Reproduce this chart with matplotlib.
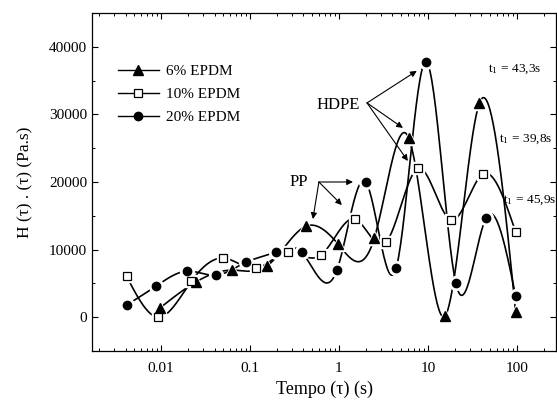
from __future__ import annotations

import numpy as np
import matplotlib

matplotlib.use("Agg")
import matplotlib.pyplot as plt
from matplotlib.lines import Line2D

plt.rcParams["font.family"] = ["Liberation Serif", "DejaVu Serif"]
plt.rcParams["mathtext.fontset"] = "stix"

# values
tau_6 = [0.0097, 0.025, 0.063, 0.155, 0.43, 0.98, 2.5, 6.1, 15.5, 38, 97]
h_6 = [1350, 5250, 6960, 7560, 13480, 10800, 11700, 26500, 150, 31700, 740]

tau_10 = [0.0041, 0.0093, 0.022, 0.050, 0.117, 0.27, 0.63, 1.51, 3.4, 7.7, 18.2, 41.7, 97]
h_10 = [6070, 0, 5330, 8740, 7260, 9630, 9190, 14520, 11100, 22000, 14370, 21190, 12590]

tau_20 = [0.0041, 0.0088, 0.0195, 0.042, 0.091, 0.195, 0.38, 0.95, 2.0, 4.4, 9.5, 20.6, 45, 97]
h_20 = [1780, 4590, 6810, 6220, 8150, 9630, 9630, 6960, 20000, 7260, 37780, 5040, 14670, 3110]

series_labels = ["6% EPDM", "10% EPDM", "20% EPDM"]
y_ticks = [0, 10000, 20000, 30000, 40000]
x_ticks = [0.01, 0.1, 1, 10, 100]
x_tick_labels = ["0.01", "0.1", "1", "10", "100"]
t1_labels = ["43,3s", "39,8s", "45,9s"]


def spline_curve(x, y, n=400):
    """Natural cubic spline through the points, in log10(x)."""
    u = np.log10(np.asarray(x, float))
    y = np.asarray(y, float)
    k = len(u)
    h = np.diff(u)
    a = np.zeros((k, k))
    b = np.zeros(k)
    a[0, 0] = a[-1, -1] = 1.0
    for i in range(1, k - 1):
        a[i, i - 1] = h[i - 1]
        a[i, i] = 2 * (h[i - 1] + h[i])
        a[i, i + 1] = h[i]
        b[i] = 6 * ((y[i + 1] - y[i]) / h[i] - (y[i] - y[i - 1]) / h[i - 1])
    m = np.linalg.solve(a, b)
    uu = np.linspace(u[0], u[-1], n)
    idx = np.clip(np.searchsorted(u, uu) - 1, 0, k - 2)
    hi = h[idx]
    t0 = u[idx + 1] - uu
    t1 = uu - u[idx]
    yy = (m[idx] * t0 ** 3 + m[idx + 1] * t1 ** 3) / (6 * hi) \
        + (y[idx] / hi - m[idx] * hi / 6) * t0 \
        + (y[idx + 1] / hi - m[idx + 1] * hi / 6) * t1
    return 10 ** uu, yy


fig = plt.figure(figsize=(5.57, 4.08), dpi=100)
ax = fig.add_axes([92 / 557, 1 - 351 / 408, 464 / 557, 338 / 408])

styles = [
    dict(marker="^", mfc="black", mec="black", ms=6.5),
    dict(marker="s", mfc="white", mec="black", ms=5.2, mew=0.9),
    dict(marker="o", mfc="black", mec="black", ms=6),
]
data = [(tau_6, h_6), (tau_10, h_10), (tau_20, h_20)]

for (xs, ys), st in zip(data, styles):
    cx, cy = spline_curve(xs, ys)
    ax.plot(cx, cy, color="black", lw=1.2, zorder=2)
for (xs, ys), st in zip(data, styles):
    # white halo leaves a small gap between curve and marker
    ax.plot(xs, ys, ls="none", marker=st["marker"], ms=st["ms"] + 4,
            mfc="white", mec="white", zorder=3)
for (xs, ys), st in zip(data, styles):
    ax.plot(xs, ys, ls="none", zorder=4, **st)

ax.set_xscale("log")
ax.set_xlim(10 ** -2.775, 10 ** 2.44)
ax.set_ylim(-5000, 45000)
ax.set_xticks(x_ticks)
ax.set_xticklabels(x_tick_labels)
ax.set_yticks(y_ticks)
ax.set_yticks([-5000, 5000, 15000, 25000, 35000, 45000], minor=True)
ax.tick_params(which="both", direction="in", top=True, right=True, labelsize=11)
ax.tick_params(which="major", length=4, width=0.8)
ax.tick_params(which="minor", length=2.5, width=0.7)
ax.tick_params(axis="x", pad=8)
for sp in ax.spines.values():
    sp.set_linewidth(0.9)

ax.set_xlabel("Tempo (τ) (s)", fontsize=13, labelpad=4)
ax.set_ylabel("H (τ) . (τ) (Pa.s)", fontsize=12.5, labelpad=11)

handles = [Line2D([], [], color="black", lw=1.0, **st) for st in styles]
ax.legend(handles, series_labels, loc="upper left", bbox_to_anchor=(0.042, 0.865),
          frameon=False, fontsize=11, handlelength=2.7, handletextpad=0.45,
          labelspacing=0.6, borderaxespad=0)

arrow = dict(arrowstyle="-|>", color="black", lw=0.8, mutation_scale=9,
             shrinkA=0, shrinkB=0)
ax.text(1.72, 31400, "HDPE", fontsize=12, ha="right", va="center")
for tx, ty in [(7.5, 36440), (5.24, 28000), (5.96, 23110)]:
    ax.annotate("", xy=(tx, ty), xytext=(2.07, 31700), arrowprops=arrow)

ax.text(0.449, 20000, "PP", fontsize=12, ha="right", va="center")
for tx, ty in [(1.44, 20000), (0.51, 14520), (1.08, 16590)]:
    ax.annotate("", xy=(tx, ty), xytext=(0.596, 20000), arrowprops=arrow)

for (lx, ly), lab in zip([(47.2, 36740), (62.8, 26370), (69.7, 17330)], t1_labels):
    ax.text(lx, ly, r"t$_\mathregular{1}$ = " + lab, fontsize=9.6,
            ha="left", va="center", clip_on=False)

fig.savefig("out.png", dpi=100)
